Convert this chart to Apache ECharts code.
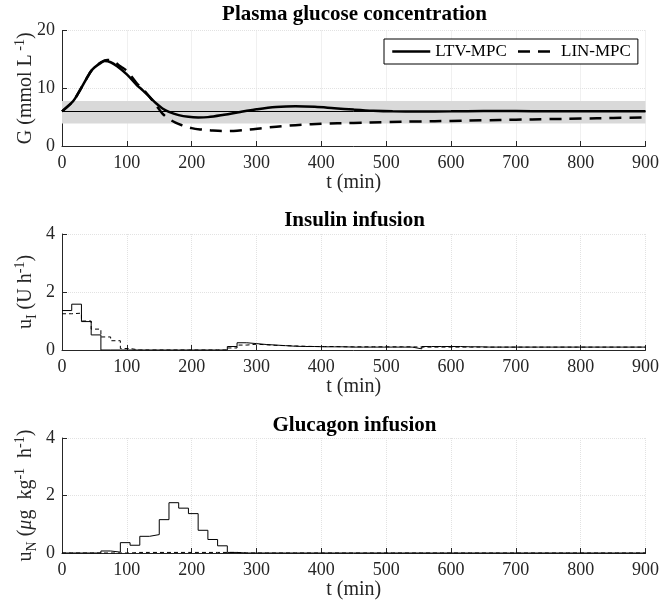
<!DOCTYPE html>
<html><head><meta charset="utf-8">
<script src="https://cdn.jsdelivr.net/npm/echarts@6/dist/echarts.min.js"></script>
<style>html,body{margin:0;padding:0;background:#fff}#c{width:662px;height:610px}</style>
</head><body><div id="c"></div>
<script>
// ---- Data ----
const seriesNames = ['LTV-MPC', 'LIN-MPC'];
const xTicks = [0,100,200,300,400,500,600,700,800,900];
// Plasma glucose (mmol/L)
const tGluLTV = [0,15,20,30,40,45,50,60,66,75,85,100,115,125,135,145,155,165,180,195,210,225,250,275,300,330,360,390,420,450,480,510,550,600,650,700,750,800,850,900];
const gluLTV  = [6.0,7.5,8.2,10.1,12.1,13.0,13.6,14.4,14.7,14.5,13.8,12.4,10.6,9.6,8.5,7.4,6.5,5.9,5.35,5.05,4.95,5.0,5.4,5.9,6.35,6.75,6.9,6.8,6.55,6.3,6.1,6.0,5.98,6.0,6.05,6.05,6.0,6.0,6.0,6.0];
const tGluLIN = [0,15,20,30,40,45,50,60,70,80,90,100,115,125,135,145,155,165,175,185,200,215,230,250,270,290,310,340,370,400,450,500,550,600,650,700,750,800,850,900];
const gluLIN  = [6.0,7.5,8.2,10.1,12.1,13.0,13.6,14.5,14.9,14.6,13.8,13.0,10.9,9.8,8.5,7.1,5.6,4.7,4.05,3.6,3.1,2.85,2.7,2.6,2.65,2.85,3.1,3.45,3.7,3.85,4.0,4.15,4.25,4.35,4.45,4.55,4.65,4.75,4.85,4.95];
const targetGlucose = 6;
const bandLow = 3.9, bandHigh = 7.8;
// Infusions, one value per 15-min sample (0 ... 885 min)
const sampleMin = 15;
const insLTV = [1.36,1.58,0.98,0.52, 0,0,0,0,0,0,0,0,0,0,0,0,0,
  0.12,0.25,0.22,0.19,0.17,0.15,0.13,0.12,0.12,0.11,0.11,0.11,0.10,0.10,0.10,0.10,0.10,0.10,0.10,
  0.04,0.12,0.12,0.12,0.12,0.11,0.11,
  0.10,0.10,0.10,0.10,0.10,0.10,0.10,0.10,0.10,0.10,0.10,0.10,0.10,0.10,0.10,0.10,0.10];
const insLIN = [1.25,1.27,1.0,0.72,0.45,0.32,0.05, 0,0,0,0,0,0,0,0,0,0,
  0.07,0.17,0.20,0.18,0.16,0.15,0.14,0.13,0.12,0.12,0.12,0.11,
  0.11,0.11,0.11,0.11,0.11,0.11,0.11,0.10,
  0.10,0.10,0.10,0.10,0.10,0.10,0.10,0.10,0.10,0.10,0.10,0.10,0.10,0.10,0.10,0.10,0.10,0.10,0.10,0.10,0.10,0.10,0.10];
const glcLTV = [0,0,0,0,0.07,0.03,0.36,0.27,0.58,0.64,1.16,1.75,1.56,1.37,0.79,0.47,0.25,0.02,
  0,0,0,0,0,0,0,0,0,0,0,0,0,0,0,0,0,0,0,0,0,0,0,0,0,0,0,0,0,0,0,0,0,0,0,0,0,0,0,0,0,0];
const glcLIN = [0,0,0,0,0,0,0,0.02,0.02,0.02,0.02,0.02,0.02,0.02,0.02,0.02,0.02,0.02,
  0,0,0,0,0,0,0,0,0,0,0,0,0,0,0,0,0,0,0,0,0,0,0,0,0,0,0,0,0,0,0,0,0,0,0,0,0,0,0,0,0,0];

// ---- helpers ----
const pairs = (t, v) => t.map((x, i) => [x, v[i]]);
const steps = v => { const d = v.map((y, i) => [i * sampleMin, y]); d.push([v.length * sampleMin, v[v.length - 1]]); return d; };

const FF = '"Liberation Serif", "Times New Roman", serif';
const AX = '#262626';
const GRIDC = '#e2e2e2';

function xAx(i) {
  return {
    type: 'value', gridIndex: i, min: 0, max: 900, interval: 100,
    name: 't (min)', nameLocation: 'middle', nameGap: 27,
    nameTextStyle: { fontFamily: FF, fontSize: 20, color: AX },
    axisLine: { lineStyle: { color: AX, width: 1 } },
    axisTick: { inside: true, length: 5, lineStyle: { color: AX } },
    axisLabel: { fontFamily: FF, fontSize: 18, color: AX, margin: 8 },
    splitLine: { show: true, lineStyle: { color: GRIDC, type: 'dotted', width: 1 } }
  };
}
const rich = {
  a: { fontFamily: FF, fontSize: 20, color: AX, lineHeight: 26 },
  s: { fontFamily: FF, fontSize: 14, color: AX, lineHeight: 14, verticalAlign: 'top' },
  b: { fontFamily: FF, fontSize: 14, color: AX, lineHeight: 14, verticalAlign: 'bottom' },
  m: { fontFamily: FF, fontSize: 20, color: AX, lineHeight: 26, fontStyle: 'italic' }
};
function yAx(i, max, interval, name, gap) {
  return {
    type: 'value', gridIndex: i, min: 0, max: max, interval: interval,
    name: name, nameLocation: 'middle', nameRotate: 90, nameGap: gap, nameMoveOverlap: false,
    nameTextStyle: { rich: rich },
    axisLine: { show: true, lineStyle: { color: AX, width: 1 } },
    axisTick: { show: true, inside: true, length: 5, lineStyle: { color: AX } },
    axisLabel: { fontFamily: FF, fontSize: 18, color: AX, margin: 7 },
    splitLine: { show: true, lineStyle: { color: GRIDC, type: 'dotted', width: 1 } }
  };
}

const chart = echarts.init(document.getElementById('c'), null, { renderer: 'canvas' });
const titleStyle = (txt, y) => ({
  type: 'text', x: 354.5, y: y, z: 100,
  style: { text: txt, fontFamily: FF, fontSize: 21, fontWeight: 'bold', fill: '#000', align: 'center', verticalAlign: 'middle' }
});

chart.setOption({
  animation: false,
  backgroundColor: '#fff',
  graphic: [
    titleStyle('Plasma glucose concentration', 15),
    titleStyle('Insulin infusion', 221),
    titleStyle('Glucagon infusion', 426)
  ],
  grid: [
    { left: 62, right: 15, top: 30.5, height: 115.5 },
    { left: 62, right: 15, top: 234, height: 116 },
    { left: 62, right: 15, top: 438, height: 115 }
  ],
  legend: {
    data: seriesNames, left: 384, top: 39, padding: [4, 7], itemGap: 10,
    itemWidth: 38, itemHeight: 14, backgroundColor: '#fff',
    borderColor: '#000', borderWidth: 1, borderRadius: 0,
    textStyle: { fontFamily: FF, fontSize: 17, color: '#000' },
    lineStyle: { width: 2.5 },
    itemStyle: { opacity: 0 }
  },
  xAxis: [xAx(0), xAx(1), xAx(2)],
  yAxis: [
    yAx(0, 20, 10, '{a|G (mmol L}{s| -1}{a|)}', 23),
    yAx(1, 4, 2, '{a|u}{b|I}{a| (U h}{s|-1}{a|)}', 23),
    yAx(2, 4, 2, '{a|u}{b|N}{a| (}{m|μ}{a|g  kg}{s|-1}{a|  h}{s|-1}{a|)}', 23)
  ],
  series: [
    {
      name: seriesNames[0], type: 'line', xAxisIndex: 0, yAxisIndex: 0,
      data: pairs(tGluLTV, gluLTV), smooth: 0.35, symbol: 'none', showSymbol: false,
      lineStyle: { color: '#000', width: 2.5 }, itemStyle: { color: '#000' }, z: 5,
      markArea: { silent: true, itemStyle: { color: '#d9d9d9' }, data: [[{ yAxis: bandLow }, { yAxis: bandHigh }]], z: 1 },
      markLine: { silent: true, symbol: 'none', label: { show: false }, lineStyle: { color: '#000', width: 1, type: 'solid' }, data: [{ yAxis: targetGlucose }] }
    },
    {
      name: seriesNames[1], type: 'line', xAxisIndex: 0, yAxisIndex: 0,
      data: pairs(tGluLIN, gluLIN), smooth: 0.35, symbol: 'none', showSymbol: false,
      lineStyle: { color: '#000', width: 2.5, type: [12, 8] }, itemStyle: { color: '#000' }, z: 5
    },
    { type: 'line', xAxisIndex: 1, yAxisIndex: 1, step: 'end', data: steps(insLTV), symbol: 'none',
      lineStyle: { color: '#000', width: 1 }, z: 5 },
    { type: 'line', xAxisIndex: 1, yAxisIndex: 1, step: 'end', data: steps(insLIN), symbol: 'none',
      lineStyle: { color: '#000', width: 1, type: [4, 3] }, z: 4 },
    { type: 'line', xAxisIndex: 2, yAxisIndex: 2, step: 'end', data: steps(glcLTV), symbol: 'none',
      lineStyle: { color: '#000', width: 1 }, z: 5 },
    { type: 'line', xAxisIndex: 2, yAxisIndex: 2, step: 'end', data: steps(glcLIN), symbol: 'none',
      lineStyle: { color: '#000', width: 1, type: [4, 3] }, z: 4 }
  ]
});
</script></body></html>
